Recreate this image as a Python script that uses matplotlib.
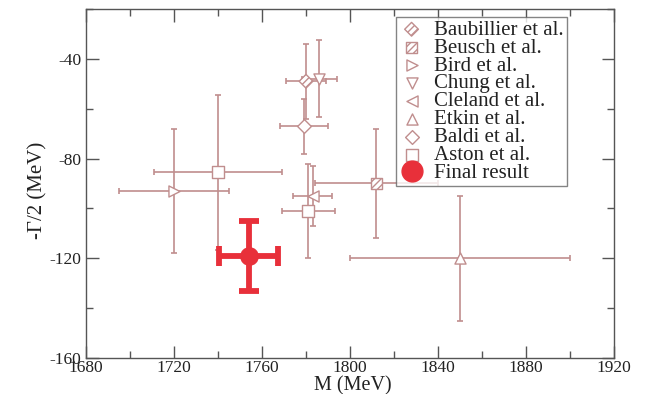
import matplotlib
matplotlib.use("Agg")
import matplotlib.pyplot as plt
from matplotlib.lines import Line2D
from matplotlib.ticker import MultipleLocator

plt.rcParams['font.family'] = ['Liberation Serif', 'DejaVu Serif']
plt.rcParams['mathtext.fontset'] = 'stix'

# Pole positions of the resonance: mass M and -Gamma/2 (MeV) with uncertainties
labels = ["Baubillier et al.", "Beusch et al.", "Bird et al.", "Chung et al.",
          "Cleland et al.", "Etkin et al.", "Baldi et al.", "Aston et al."]
markers = ["D", "s", ">", "v", "<", "^", "D", "s"]
hatched = [True, True, False, False, False, False, False, False]
mass = [[1780], [1812], [1720], [1786], [1783], [1850], [1779], [1740, 1781]]
mass_err = [[9], [28], [25], [8], [9], [50], [11], [29, 12]]
half_width = [[-49], [-90], [-93], [-48], [-95], [-120], [-67], [-85.5, -101]]
half_width_err = [[15], [22], [25], [15.5], [12], [25], [11], [31, 19]]

final_mass, final_mass_err = 1754, 13.5
final_hw, final_hw_err = -119, 14

xticks = [1680, 1720, 1760, 1800, 1840, 1880, 1920]
yticks = [-160, -120, -80, -40]

data_color = "#c08e8e"
final_color = "#e8303a"
frame_color = "#555555"
text_color = "#222222"

fig = plt.figure(figsize=(6.47, 3.94), dpi=100)
ax = fig.add_axes([0.1329, 0.0914, 0.8161, 0.8858])

handles = []
for lab, mk, hat, xs, xe, ys, ye in zip(labels, markers, hatched, mass, mass_err,
                                         half_width, half_width_err):
    ax.errorbar(xs, ys, xerr=xe, yerr=ye, fmt="none", ecolor=data_color,
                elinewidth=1.2, capsize=2.5, capthick=1.2, zorder=2)
    ms = 6 if mk == "D" else 7
    sc = ax.scatter(xs, ys, marker=mk, s=(ms + 1) ** 2, facecolor="white",
                    edgecolor=data_color, linewidth=1.0,
                    hatch="/////" if hat else None, zorder=3)
    handles.append(sc)

ax.errorbar([final_mass], [final_hw], xerr=[final_mass_err], yerr=[final_hw_err],
            fmt="o", color=final_color, ms=12.5, elinewidth=4.2, capsize=7,
            capthick=4.2, zorder=4)
final_handle = Line2D([], [], marker="o", ls="none", color=final_color, ms=15)
handles.append(final_handle)

ax.set_xlim(1680, 1920)
ax.set_ylim(-160, -20)
ax.set_xticks(xticks)
ax.set_yticks(yticks)
ax.xaxis.set_minor_locator(MultipleLocator(20))
ax.yaxis.set_minor_locator(MultipleLocator(20))
ax.tick_params(which="both", direction="in", top=True, right=True,
               colors=frame_color, labelcolor=text_color, labelsize=12.5)
ax.tick_params(which="major", length=9, width=1.0)
ax.tick_params(which="minor", length=5, width=1.0)
ax.tick_params(axis="x", pad=1.5)
ax.set_yticklabels([f"-{abs(v)}" for v in yticks])
for sp in ax.spines.values():
    sp.set_color(frame_color)
    sp.set_linewidth(1.0)

ax.set_xlabel("M (MeV)", fontsize=14.5, color=text_color, va="center")
ax.xaxis.set_label_coords(0.506, -0.08)
ax.set_ylabel("-\u0393/2 (MeV)", fontsize=15, color=text_color,
              va="center", ha="center")
ax.yaxis.set_label_coords(-0.092, 0.481)

leg = ax.legend(handles, labels + ["Final result"], loc="upper left",
                bbox_to_anchor=(0.587, 0.977), fontsize=15, frameon=True,
                fancybox=False, labelspacing=-0.08, handletextpad=0.5,
                handlelength=1.2, borderpad=0.15, borderaxespad=0)
leg.get_frame().set_edgecolor("#666666")
leg.get_frame().set_linewidth(1.0)
for t in leg.get_texts():
    t.set_color(text_color)

fig.savefig("out.png", dpi=100)
